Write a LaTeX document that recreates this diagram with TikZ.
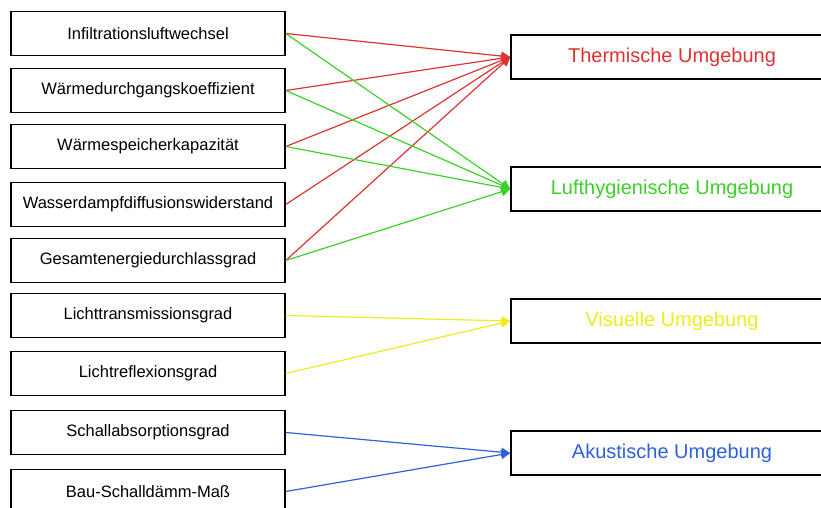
\documentclass[tikz,border=0pt]{standalone}
\usepackage{fontspec}
\setmainfont{Liberation Sans}
\usetikzlibrary{arrows.meta, positioning}
\definecolor{thermred}{RGB}{221,51,51}
\definecolor{luftgreen}{RGB}{60,208,40}
\definecolor{visyellow}{RGB}{236,236,30}
\definecolor{akublue}{RGB}{48,96,220}
\tikzset{
    param/.style={draw=black, line width=1.5pt, fill=white, minimum width=274pt, minimum height=44pt, inner sep=0pt, font=\fontsize{16.5}{19}\selectfont},
    target/.style={draw=black, line width=1.5pt, fill=white, minimum width=322pt, minimum height=44pt, inner sep=0pt, font=\fontsize{20}{24}\selectfont},
    arrow/.style={-{Triangle[length=9pt, width=9pt]}, line width=1.2pt}
}

\begin{document}
\begin{tikzpicture}[x=1pt, y=-1pt]
        \useasboundingbox (0,0) rectangle (821,508);
        \clip (0,0) rectangle (821,508);

        % Parameters
        \node [param] (p1) at (148,33.5) {Infiltrationsluftwechsel};
        \node [param, below=11.5pt of p1] (p2) {Wärmedurchgangskoeffizient};
        \node [param, below=10.5pt of p2] (p3) {Wärmespeicherkapazität};
        \node [param, below=12.5pt of p3] (p4) {Wasserdampfdiffusionswiderstand};
        \node [param, below=10.5pt of p4] (p5) {Gesamtenergiedurchlassgrad};
        \node [param, below=9.5pt of p5] (p6) {Lichttransmissionsgrad};
        \node [param, below=12.5pt of p6] (p7) {Lichtreflexionsgrad};
        \node [param, below=13.5pt of p7] (p8) {Schallabsorptionsgrad};
        \node [param, below=13.5pt of p8] (p9) {Bau-Schalldämm-Maß};

        % Umgebungen
        \node [target, text=thermred] (therm) at (672,57) {Thermische Umgebung};
        \node [target, text=luftgreen, below=86.5pt of therm] (luft) {Lufthygienische Umgebung};
        \node [target, text=visyellow, below=86.5pt of luft] (vis) {Visuelle Umgebung};
        \node [target, text=akublue, below=86.5pt of vis] (aku) {Akustische Umgebung};

        \foreach \p in {p1,p2,p3,p4,p5}
            \draw [arrow, thermred] (\p.east) -- (therm.west);
        \foreach \p in {p1,p2,p3,p5}
            \draw [arrow, luftgreen] (\p.east) -- (luft.west);
        \foreach \p in {p6,p7}
            \draw [arrow, visyellow] (\p.east) -- (vis.west);
        \foreach \p in {p8,p9}
            \draw [arrow, akublue] (\p.east) -- (aku.west);
    \end{tikzpicture}
\end{document}
